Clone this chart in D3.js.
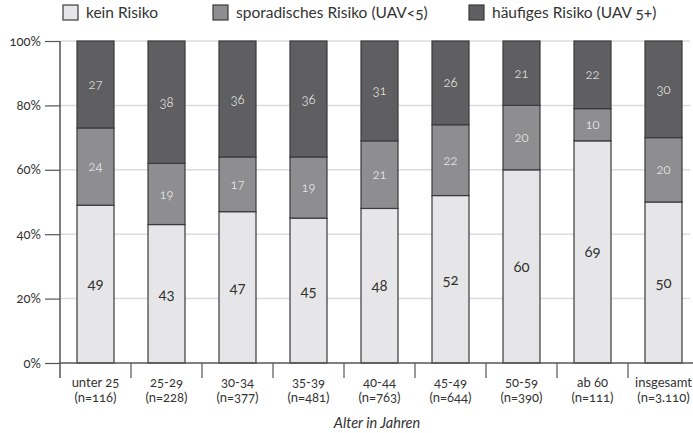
<!DOCTYPE html>
<html>
<head>
<meta charset="utf-8">
<script src="https://cdn.jsdelivr.net/npm/d3@7"></script>
<style>
  body { margin: 0; background: #fff; }
  svg text { font-family: Lato, "Open Sans", sans-serif; font-variant-numeric: oldstyle-nums; fill: #333; }
</style>
</head>
<body>
<svg id="chart" width="693" height="433"></svg>
<script>
// Data
const categories = ['unter 25', '25-29', '30-34', '35-39', '40-44', '45-49', '50-59', 'ab 60', 'insgesamt'];
const sampleSizes = ['(n=116)', '(n=228)', '(n=377)', '(n=481)', '(n=763)', '(n=644)', '(n=390)', '(n=111)', '(n=3.110)'];
const keinRisiko = [49, 43, 47, 45, 48, 52, 60, 69, 50];
const sporadisch = [24, 19, 17, 19, 21, 22, 20, 10, 20];
const haeufig = [27, 38, 36, 36, 31, 26, 21, 22, 30];
const seriesNames = ['kein Risiko', 'sporadisches Risiko (UAV<5)', 'häufiges Risiko (UAV 5+)'];
const yTicks = [0, 20, 40, 60, 80, 100];

const colors = ['#e6e6e8', '#8e8e90', '#5f5f61'];
const textColors = ['#333', '#fff', '#fff'];

const svg = d3.select('#chart');
const plotLeft = 60, plotTop = 41, plotBottom = 363;

const xScale = d3.scaleBand()
  .domain(categories)
  .range([plotLeft, plotLeft + 71 * categories.length])
  .paddingInner(0)
  .paddingOuter(0);

const yScale = d3.scaleLinear()
  .domain([0, 100])
  .range([plotBottom, plotTop]);

const barW = 37;

// grid lines
svg.append('g')
  .selectAll('line')
  .data(yTicks.filter(d => d > 0))
  .enter()
  .append('line')
  .attr('x1', plotLeft)
  .attr('x2', 690)
  .attr('y1', d => yScale(d))
  .attr('y2', d => yScale(d))
  .attr('stroke', '#dcdcdc')
  .attr('stroke-width', 1.5);

// stack the rows
const rows = categories.map((c, i) => ({ cat: c, kein: keinRisiko[i], spor: sporadisch[i], haeu: haeufig[i] }));
const stack = d3.stack().keys(['kein', 'spor', 'haeu']);
const layers = stack(rows);

const layerG = svg.append('g')
  .selectAll('g')
  .data(layers)
  .enter()
  .append('g');

layerG.selectAll('rect')
  .data((layer, li) => layer.map(d => ({ d, li })))
  .enter()
  .append('rect')
  .attr('x', p => xScale(p.d.data.cat) + (xScale.bandwidth() - barW) / 2)
  .attr('y', p => yScale(Math.min(100, p.d[1])))
  .attr('width', barW)
  .attr('height', p => yScale(p.d[0]) - yScale(Math.min(100, p.d[1])))
  .attr('fill', p => colors[p.li])
  .attr('stroke', '#3a3a3a')
  .attr('stroke-width', 1.2);

layerG.selectAll('text')
  .data((layer, li) => layer.map(d => ({ d, li })))
  .enter()
  .append('text')
  .attr('x', p => xScale(p.d.data.cat) + xScale.bandwidth() / 2)
  .attr('y', p => (yScale(p.d[0]) + yScale(Math.min(100, p.d[1]))) / 2)
  .attr('dy', '0.35em')
  .attr('text-anchor', 'middle')
  .attr('font-size', p => p.li === 0 ? 15 : 13)
  .attr('font-weight', p => p.li === 0 ? 400 : 300)
  .style('fill', p => textColors[p.li])
  .text(p => p.d[1] - p.d[0]);

// y axis
const yAxis = d3.axisLeft(yScale)
  .tickValues(yTicks)
  .tickSize(15)
  .tickPadding(4)
  .tickFormat(d => d + '%');

const yG = svg.append('g')
  .attr('transform', `translate(${plotLeft},0)`)
  .call(yAxis);
yG.select('.domain').remove();
yG.selectAll('line').attr('stroke', '#555').attr('stroke-width', 1.2);
yG.selectAll('text').attr('font-size', 13).style('font-family', 'Lato, sans-serif');

svg.append('line')
  .attr('x1', plotLeft).attr('x2', plotLeft)
  .attr('y1', plotTop).attr('y2', plotBottom + 15)
  .attr('stroke', '#555').attr('stroke-width', 1.5);

// x axis base line
svg.append('line')
  .attr('x1', plotLeft).attr('x2', 693)
  .attr('y1', plotBottom).attr('y2', plotBottom)
  .attr('stroke', '#555').attr('stroke-width', 1.5);

// band separators below the axis
svg.append('g')
  .selectAll('line')
  .data(categories.slice(1))
  .enter()
  .append('line')
  .attr('x1', d => xScale(d))
  .attr('x2', d => xScale(d))
  .attr('y1', plotBottom)
  .attr('y2', plotBottom + 15)
  .attr('stroke', '#555')
  .attr('stroke-width', 1.2);

// category labels
const xLab = svg.append('g')
  .selectAll('text')
  .data(categories)
  .enter()
  .append('text')
  .attr('x', d => xScale(d) + xScale.bandwidth() / 2)
  .attr('y', 387)
  .attr('text-anchor', 'middle')
  .attr('font-size', 13);

xLab.append('tspan')
  .text(d => d);
xLab.append('tspan')
  .attr('x', d => xScale(d) + xScale.bandwidth() / 2)
  .attr('dy', 15)
  .text((d, i) => sampleSizes[i]);

svg.append('text')
  .attr('x', 377)
  .attr('y', 428)
  .attr('text-anchor', 'middle')
  .attr('font-size', 14.5)
  .attr('font-style', 'italic')
  .text('Alter in Jahren');

// legend
const legendX = [63, 213, 469];
const legend = svg.append('g')
  .selectAll('g')
  .data(seriesNames)
  .enter()
  .append('g')
  .attr('transform', (d, i) => `translate(${legendX[i]},5)`);

legend.append('rect')
  .attr('width', 15)
  .attr('height', 15)
  .attr('fill', (d, i) => colors[i])
  .attr('stroke', '#3a3a3a')
  .attr('stroke-width', 1.2);

legend.append('text')
  .attr('x', 23)
  .attr('y', 13)
  .attr('font-size', 15.5)
  .text(d => d);
</script>
</body>
</html>
